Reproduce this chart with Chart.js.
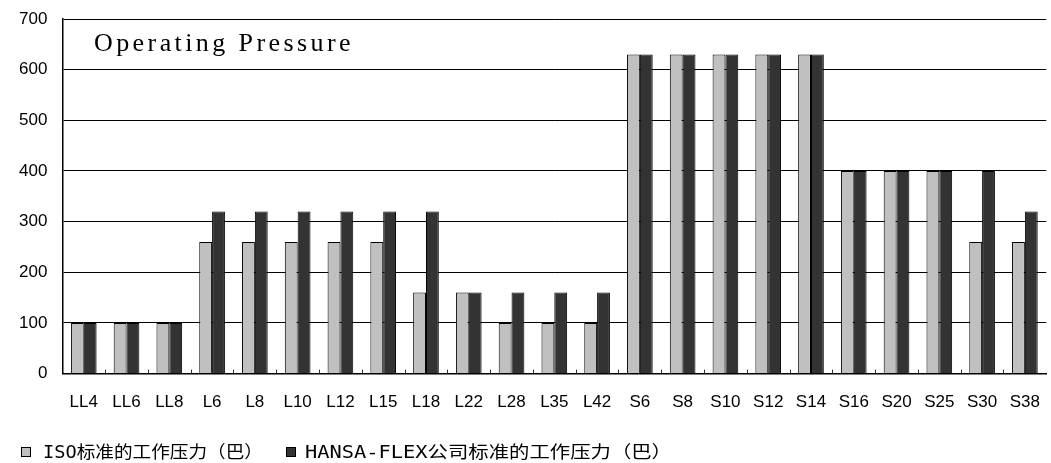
<!DOCTYPE html>
<html>
<head>
<meta charset="utf-8">
<script src="https://cdn.jsdelivr.net/npm/chart.js@4"></script>
<style>
html,body{margin:0;padding:0;background:#fff;}
#wrap{position:relative;width:1051px;height:463px;overflow:hidden;}
#note{position:absolute;left:94px;top:30px;font-family:"Liberation Serif",serif;font-size:26px;line-height:1;color:#000;white-space:nowrap;}
.box{position:absolute;width:8px;height:8px;border:1px solid #000;}
.txt{position:absolute;top:441px;font-family:"DejaVu Sans Mono","Noto Sans CJK SC",sans-serif;font-size:17px;line-height:22px;color:#000;white-space:nowrap;transform-origin:0 50%;}
</style>
</head>
<body>
<div id="wrap">
<canvas id="c" width="1051" height="463"></canvas>
<div id="note">Operating Pressure</div>
<div class="box" id="b0" style="left:21px;top:447px;background:#c0c0c0;"></div>
<span class="txt" id="t0" style="left:43px;"></span>
<div class="box" id="b1" style="left:286px;top:447px;background:#333333;"></div>
<span class="txt" id="t1" style="left:305px;"></span>
</div>
<script>
const categories = ["LL4","LL6","LL8","L6","L8","L10","L12","L15","L18","L22","L28","L35","L42","S6","S8","S10","S12","S14","S16","S20","S25","S30","S38"];
const isoValues = [100,100,100,260,260,260,260,260,160,160,100,100,100,630,630,630,630,630,400,400,400,260,260];
const hansaValues = [100,100,100,320,320,320,320,320,320,160,160,160,160,630,630,630,630,630,400,400,400,400,320];
const yTicks = [0,100,200,300,400,500,600,700];
const seriesNames = ["ISO标准的工作压力（巴）","HANSA-FLEX公司标准的工作压力（巴）"];
const seriesColors = ["#c0c0c0","#333333"];

// HTML legend text, fitted to the reference widths
const legendWidths = [220, 367];
seriesNames.forEach((n,i)=>{
  const t = document.getElementById('t'+i);
  t.textContent = n;
  const w = t.getBoundingClientRect().width;
  t.style.transform = 'scaleX(' + (legendWidths[i]/w) + ')';
});
// annotation spacing
(function(){
  const n = document.getElementById('note');
  const w = n.getBoundingClientRect().width;
  const chars = n.textContent.length;
  n.style.letterSpacing = ((260 - w)/chars) + 'px';
})();

const tickMarks = {
  id:'tickMarks',
  afterDraw(chart){
    const x = chart.scales.x, y = chart.scales.y;
    const ctx = chart.ctx;
    ctx.save();
    ctx.strokeStyle = '#333';
    ctx.lineWidth = 1;
    const base = y.getPixelForValue(0);
    for(let i=0;i<categories.length-1;i++){
      const p = Math.round((x.getPixelForValue(i)+x.getPixelForValue(i+1))/2)+0.5;
      ctx.beginPath();
      ctx.moveTo(p, base);
      ctx.lineTo(p, base-4);
      ctx.stroke();
    }
    ctx.restore();
  }
};

new Chart(document.getElementById('c'), {
  type:'bar',
  data:{
    labels:categories,
    datasets:[
      {label:seriesNames[0], data:isoValues, backgroundColor:seriesColors[0], borderColor:'#000', borderWidth:1, categoryPercentage:0.6, barPercentage:1},
      {label:seriesNames[1], data:hansaValues, backgroundColor:seriesColors[1], borderColor:'#000', borderWidth:1, categoryPercentage:0.6, barPercentage:1}
    ]
  },
  options:{
    responsive:false,
    animation:false,
    layout:{padding:{left:4,right:0,top:0,bottom:39}},
    plugins:{
      legend:{display:false},
      tooltip:{enabled:false}
    },
    scales:{
      x:{
        grid:{display:false},
        border:{display:true,color:'#000',width:1.5},
        ticks:{color:'#000',font:{family:'"Liberation Sans"',size:17},maxRotation:0,autoSkip:false,padding:11}
      },
      y:{
        min:0,max:700,
        afterBuildTicks(s){ s.ticks = yTicks.map(v=>({value:v})); },
        afterFit(s){ s.paddingTop = 19; },
        grid:{color:'#000',lineWidth:1,drawTicks:false},
        border:{display:true,color:'#000',width:1.5},
        ticks:{color:'#000',font:{family:'"Liberation Sans"',size:17,lineHeight:1},padding:15}
      }
    }
  },
  plugins:[tickMarks]
});
</script>
</body>
</html>
